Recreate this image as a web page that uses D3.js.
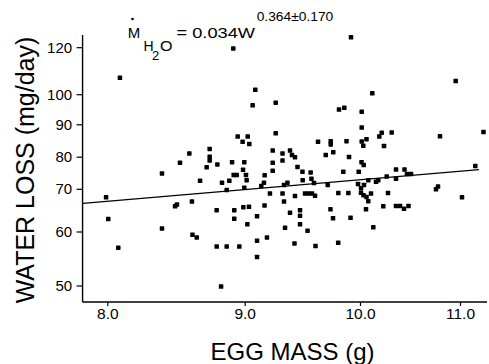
<!DOCTYPE html>
<html>
<head>
<meta charset="utf-8">
<script src="https://cdn.jsdelivr.net/npm/d3@7"></script>
<style>
  html, body { margin: 0; padding: 0; background: #fff; }
  svg { display: block; }
  text { font-family: "Liberation Sans", Arial, Helvetica, sans-serif; fill: #000; }
</style>
</head>
<body>
<svg id="chart" width="489" height="364"></svg>
<script>
// ---- data (egg mass in g, water loss in mg/day) ----
const eggMass = [
  8.092, 8.917, 9.922, 10.957, 9.092, 10.123, 9.069, 9.269, 9.818, 9.864,
  8.597, 8.529, 8.398, 7.991, 8.007, 8.080, 8.398, 8.493, 8.507, 8.616,
  8.620, 8.651, 8.675, 8.949, 8.985, 9.026, 9.040, 9.269, 8.745, 8.745,
  8.745, 8.723, 8.801, 8.908, 8.997, 9.243, 9.328, 9.393, 9.328, 9.410,
  9.436, 9.243, 9.243, 9.173, 8.988, 9.011, 9.017, 8.920, 8.942, 8.888,
  8.835, 8.869, 8.997, 9.144, 9.167, 9.371, 9.341, 9.219, 9.328, 9.436,
  9.341, 8.796, 8.924, 8.990, 9.037, 9.172, 8.924, 9.107, 9.393, 9.023,
  9.350, 9.193, 9.107, 8.796, 8.869, 8.961, 9.432, 9.107, 8.828, 9.458,
  9.501, 9.572, 9.503, 9.579, 9.601, 9.720, 9.855, 9.989, 9.983, 10.010,
  10.040, 10.083, 10.160, 10.183, 10.267, 9.523, 9.553, 9.584, 9.610, 9.812,
  9.899, 10.010, 10.035, 10.065, 10.083, 10.110, 10.280, 9.480, 9.480, 9.480,
  9.744, 9.766, 9.918, 10.060, 10.233, 10.133, 9.545, 9.614, 9.811, 10.017,
  10.017, 10.217, 10.193, 10.317, 9.636, 9.746, 9.746, 9.883, 10.017, 10.065,
  10.033, 10.240, 9.703, 9.768, 9.905, 10.015, 10.037, 10.800, 11.235, 10.360,
  10.445, 10.470, 10.510, 10.360, 11.153, 10.780, 10.760, 11.020, 10.360, 10.400,
  10.440, 10.485
];
const waterLoss = [
  107.0, 119.5, 124.2, 105.6, 101.9, 100.4, 96.3, 97.2, 94.9, 95.5,
  81.0, 78.1, 74.8, 68.0, 62.9, 57.0, 60.7, 65.9, 66.3, 67.0,
  59.4, 58.9, 72.5, 86.2, 84.6, 86.2, 83.9, 87.2, 82.4, 80.0,
  78.8, 76.7, 77.6, 78.3, 78.3, 81.9, 81.0, 81.9, 78.8, 80.5,
  79.8, 78.1, 75.6, 74.2, 75.9, 74.3, 72.7, 74.3, 74.3, 72.5,
  71.9, 69.7, 70.3, 70.9, 71.9, 71.9, 71.2, 68.9, 68.9, 68.3,
  67.0, 65.0, 65.0, 65.7, 65.8, 66.1, 63.0, 63.6, 64.4, 61.7,
  60.9, 58.9, 58.3, 57.2, 57.2, 57.2, 57.8, 55.3, 49.8, 76.8,
  75.3, 75.1, 72.7, 73.1, 71.8, 71.2, 75.3, 75.3, 71.5, 70.2,
  71.2, 72.7, 72.2, 72.7, 73.8, 68.9, 68.9, 68.9, 68.4, 69.0,
  69.0, 69.1, 68.5, 68.1, 67.1, 68.9, 69.0, 65.0, 63.7, 61.7,
  65.2, 63.1, 63.2, 65.2, 65.9, 61.0, 60.2, 57.3, 57.9, 94.2,
  89.0, 87.4, 86.2, 87.5, 84.6, 84.8, 83.8, 84.8, 84.7, 85.4,
  83.4, 83.3, 80.5, 81.4, 79.9, 78.3, 77.4, 86.3, 87.6, 76.0,
  76.0, 74.6, 74.6, 73.1, 77.1, 70.7, 69.9, 68.0, 66.0, 66.0,
  65.3, 66.0
];
// regression line end points (egg mass, water loss)
const fitMass = [7.823, 11.19];
const fitLoss = [66.6, 75.95];

const xTicks = [8, 9, 10, 11];
const xTickLabels = ["8.0", "9.0", "10.0", "11.0"];
const yTicks = [50, 60, 70, 80, 90, 100, 120];
const yTickLabels = ["50", "60", "70", "80", "90", "100", "120"];
const xExtent = [7.82, 11.27];
const yExtent = [46.94, 125.2];

const xTitle = "EGG MASS (g)";
const yTitle = "WATER LOSS (mg/day)";

// ---- scales (axis as drawn in the original figure: compressed, log-like) ----
const svg = d3.select("#chart");
const x = d3.scaleLinear().domain(xTicks).range([107.3, 244.7, 360, 460]);
const y = d3.scaleLinear().domain(yTicks).range([285.5, 231.5, 188.8, 156.7, 124.3, 94.2, 47.2]);

// axes lines
svg.append("line")
  .attr("x1", x(xExtent[0])).attr("x2", x(xExtent[1]))
  .attr("y1", y(yExtent[0])).attr("y2", y(yExtent[0]))
  .attr("stroke", "#000").attr("stroke-width", 1.4);
svg.append("line")
  .attr("x1", x(xExtent[0])).attr("x2", x(xExtent[0]))
  .attr("y1", y(yExtent[0])).attr("y2", y(yExtent[1]))
  .attr("stroke", "#000").attr("stroke-width", 1.4);

// x axis
const gx = svg.append("g")
  .attr("transform", `translate(0,${y(yExtent[0])})`)
  .call(d3.axisBottom(x).tickValues(xTicks)
    .tickFormat((d, i) => xTickLabels[i]).tickSize(4).tickPadding(1.8));
gx.select(".domain").remove();
gx.selectAll(".tick line").attr("stroke", "#000").attr("stroke-width", 1.2);
gx.selectAll(".tick text").attr("font-size", 15.5)
  .attr("font-family", "Liberation Sans, Arial, sans-serif").attr("fill", "#000");

// y axis
const gy = svg.append("g")
  .attr("transform", `translate(${x(xExtent[0])},0)`)
  .call(d3.axisLeft(y).tickValues(yTicks)
    .tickFormat((d, i) => yTickLabels[i]).tickSize(6).tickPadding(4.5));
gy.select(".domain").remove();
gy.selectAll(".tick line").attr("stroke", "#000").attr("stroke-width", 1.2);
gy.selectAll(".tick text").attr("font-size", 15)
  .attr("font-family", "Liberation Sans, Arial, sans-serif").attr("fill", "#000");

// regression line
svg.append("path")
  .datum(fitMass.map((m, i) => [m, fitLoss[i]]))
  .attr("d", d3.line().x(d => x(d[0])).y(d => y(d[1])))
  .attr("fill", "none").attr("stroke", "#000").attr("stroke-width", 1.2);

// points
const s = 4.5;
svg.append("g").selectAll("rect")
  .data(eggMass.map((m, i) => [m, waterLoss[i]]))
  .join("rect")
  .attr("x", d => x(d[0]) - s / 2)
  .attr("y", d => y(d[1]) - s / 2)
  .attr("width", s).attr("height", s)
  .attr("rx", 0.6)
  .attr("fill", "#000");

// axis titles
svg.append("text")
  .attr("x", 292.5).attr("y", 360)
  .attr("text-anchor", "middle")
  .attr("font-size", 24)
  .text(xTitle);
svg.append("text")
  .attr("transform", "translate(33.5,170) rotate(-90)")
  .attr("text-anchor", "middle")
  .attr("font-size", 25)
  .text(yTitle);

// equation
const eq = svg.append("g");
eq.append("circle").attr("cx", 132.5).attr("cy", 19).attr("r", 1.3).attr("fill", "#000");
eq.append("text").attr("x", 127.8).attr("y", 38).attr("font-size", 14.5)
  .attr("textLength", 12.5).attr("lengthAdjust", "spacingAndGlyphs").text("M");
eq.append("text").attr("x", 143.5).attr("y", 50.5).attr("font-size", 14).text("H");
eq.append("text").attr("x", 152).attr("y", 60).attr("font-size", 13).text("2");
eq.append("text").attr("x", 160).attr("y", 50.5).attr("font-size", 14)
  .attr("textLength", 12.5).attr("lengthAdjust", "spacingAndGlyphs").text("O");
eq.append("text").attr("x", 176.5).attr("y", 38).attr("font-size", 14.5)
  .attr("textLength", 78.5).attr("lengthAdjust", "spacingAndGlyphs").text("= 0.034W");
eq.append("text").attr("x", 256.7).attr("y", 21).attr("font-size", 12.5)
  .attr("textLength", 76.6).attr("lengthAdjust", "spacingAndGlyphs").text("0.364\u00B10.170");
</script>
</body>
</html>
